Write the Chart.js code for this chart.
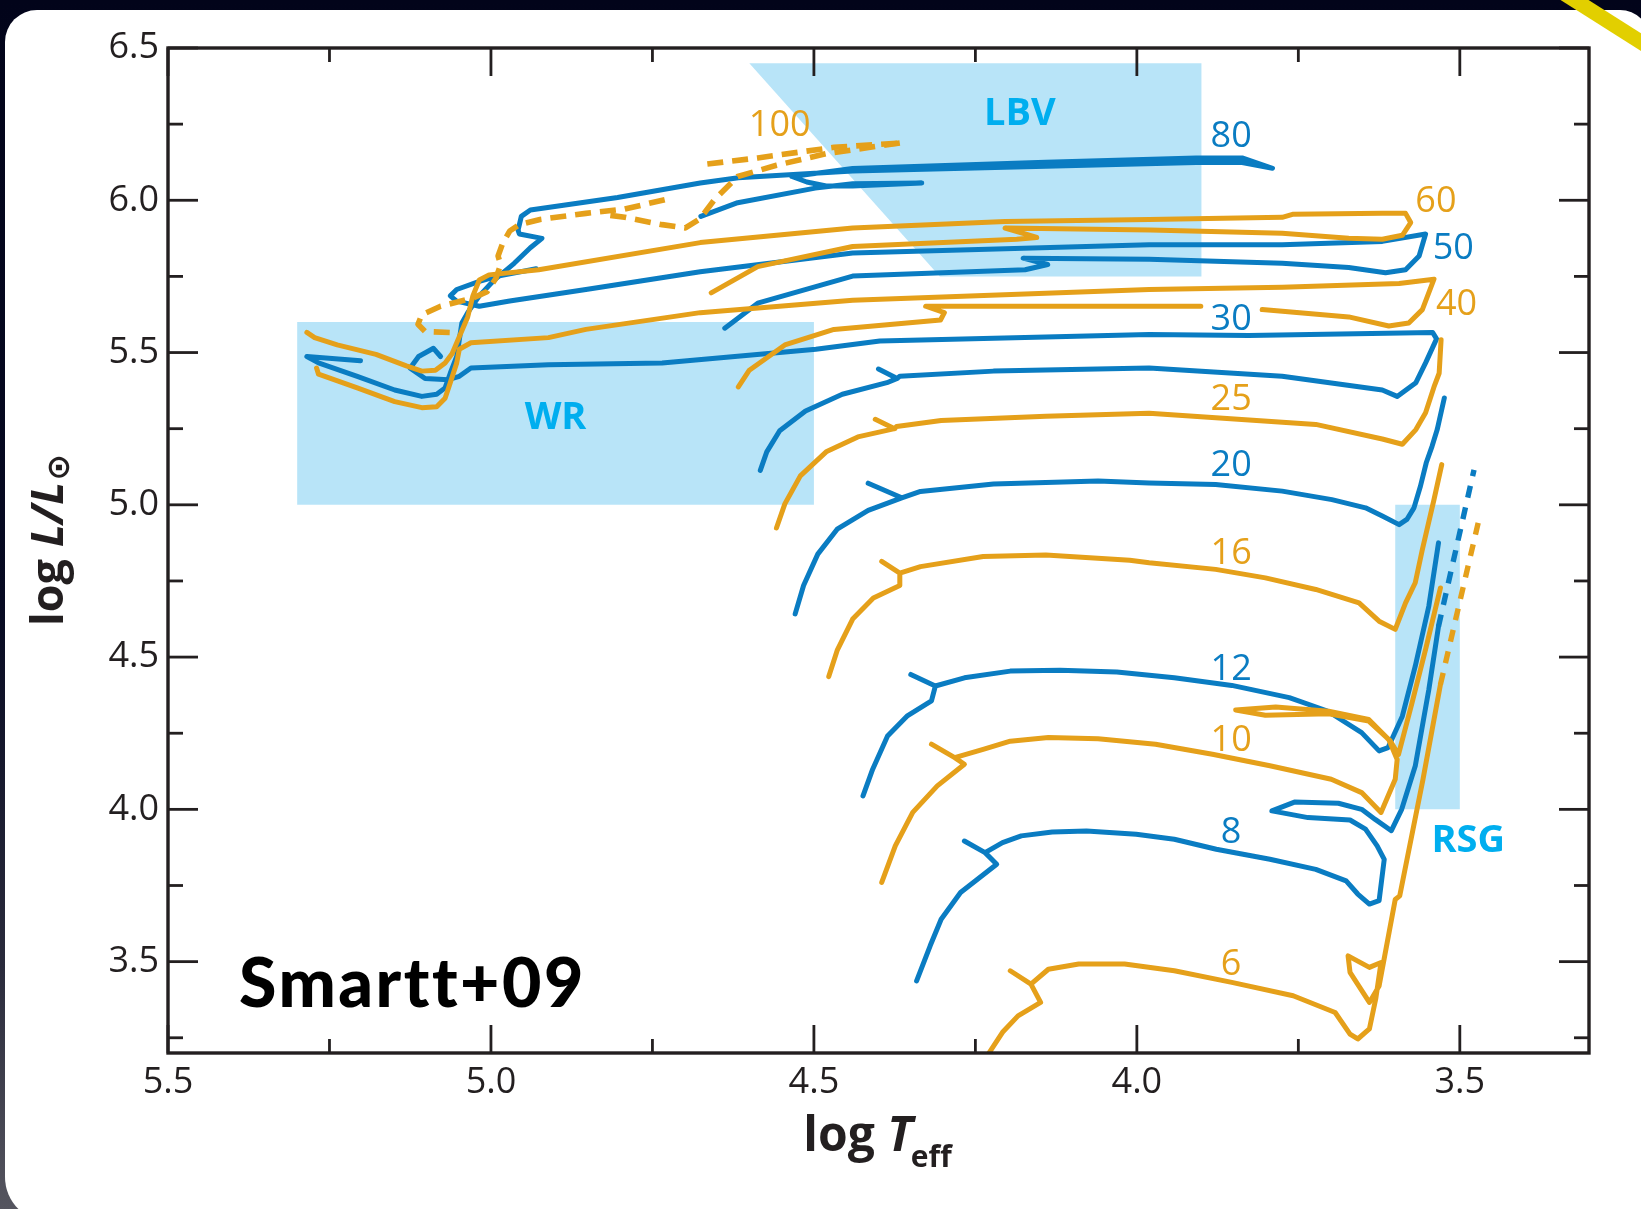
<!DOCTYPE html>
<html><head><meta charset="utf-8">
<script src="https://cdn.jsdelivr.net/npm/chart.js@4.4.1/dist/chart.umd.min.js"></script>
<style>
html,body{margin:0;padding:0;width:1641px;height:1209px;overflow:hidden;
 background:linear-gradient(to bottom,#02041a 0%,#070a22 50%,#2a2b3c 80%,#55555f 100%);}
#panel{position:absolute;left:5px;top:10px;width:1645px;height:1212px;background:#fff;border-radius:32px 30px 30px 45px;}
#stripe{position:absolute;left:1558px;top:-18px;width:130px;height:15px;background:#e2cf00;transform-origin:0 50%;transform:rotate(32.4deg);}
#c{position:absolute;left:0;top:0;}
</style></head>
<body>
<div id="panel"></div>
<canvas id="c" width="1641" height="1209"></canvas>
<div id="stripe"></div>
<script>
// ---------- axis ticks ----------
const xMajor=[5.5,5.0,4.5,4.0,3.5];
const xMinor=[5.25,4.75,4.25,3.75];
const yMajor=[6.5,6.0,5.5,5.0,4.5,4.0,3.5];
const yMinor=[6.25,5.75,5.25,4.75,4.25,3.75,3.25];

// ---------- regions (log Teff, log L) ----------
const regionWR=[[5.3,5.6],[4.5,5.6],[4.5,5.0],[5.3,5.0]];
const regionLBV=[[4.6,6.45],[3.9,6.45],[3.9,5.75],[4.305,5.75]];
const regionRSG=[[3.6,5.0],[3.5,5.0],[3.5,4.0],[3.6,4.0]];

// ---------- evolutionary tracks [log Teff, log L] ----------
const track100a=[[4.665,6.119],[4.587,6.139],[4.469,6.174],[4.367,6.188]];
const track100b=[[4.367,6.188],[4.481,6.153],[4.558,6.115],[4.618,6.078],[4.654,6.002],[4.676,5.940],[4.699,5.909],[4.735,5.920],[4.793,5.944],[4.828,5.954]];
const track100c=[[4.731,6.002],[4.793,5.971],[4.853,5.957],[4.924,5.937],[4.956,5.920],[4.971,5.899],[4.982,5.858],[4.989,5.817],[4.985,5.789],[4.992,5.745],[5.006,5.700],[5.028,5.679],[5.078,5.652],[5.107,5.624],[5.113,5.593],[5.102,5.569],[5.063,5.566]];

const track80=[[4.675,5.947],[4.618,5.992],[4.498,6.040],[4.440,6.054],[4.333,6.057],[4.440,6.047],[4.481,6.047],[4.511,6.060],[4.534,6.078],[4.440,6.104],[4.141,6.125],[3.908,6.139],[3.837,6.139],[3.790,6.105],[3.837,6.124],[3.908,6.124],[4.141,6.112],[4.440,6.096],[4.617,6.074],[4.676,6.057],[4.804,6.009],[4.939,5.968],[4.953,5.947],[4.958,5.902],[4.956,5.889],[4.921,5.875],[4.939,5.844],[4.964,5.793],[4.995,5.738],[5.018,5.686],[5.036,5.631],[5.045,5.597],[5.049,5.542],[5.053,5.487],[5.063,5.432],[5.071,5.384],[5.084,5.363],[5.107,5.356],[5.149,5.377],[5.207,5.422],[5.267,5.466],[5.285,5.487],[5.202,5.473]];

const track60=[[4.659,5.696],[4.587,5.782],[4.440,5.848],[4.186,5.872],[4.155,5.878],[4.204,5.909],[3.979,5.902],[3.775,5.892],[3.672,5.875],[3.620,5.872],[3.589,5.885],[3.576,5.927],[3.584,5.957],[3.620,5.957],[3.759,5.954],[3.775,5.944],[3.981,5.937],[4.204,5.930],[4.440,5.909],[4.676,5.861],[4.926,5.772],[5.003,5.755],[5.018,5.738],[5.028,5.686],[5.036,5.617],[5.049,5.552],[5.060,5.497],[5.071,5.466],[5.086,5.442],[5.107,5.439],[5.131,5.456],[5.178,5.494],[5.238,5.525],[5.273,5.549],[5.285,5.566]];

const track50=[[4.638,5.580],[4.587,5.662],[4.440,5.751],[4.173,5.772],[4.138,5.789],[4.176,5.810],[3.981,5.806],[3.775,5.793],[3.672,5.779],[3.615,5.762],[3.584,5.772],[3.563,5.817],[3.553,5.889],[3.620,5.865],[3.775,5.854],[3.981,5.854],[4.440,5.827],[4.676,5.765],[4.853,5.707],[4.971,5.669],[5.018,5.652],[5.053,5.669],[5.063,5.686],[5.053,5.707],[5.018,5.734],[4.989,5.751],[4.930,5.775]];

const track40a=[[4.617,5.387],[4.600,5.442],[4.545,5.525],[4.469,5.576],[4.304,5.607],[4.298,5.631],[4.327,5.652],[3.901,5.652]];
const track40b=[[3.806,5.641],[3.672,5.617],[3.610,5.587],[3.579,5.597],[3.558,5.641],[3.540,5.741],[3.594,5.727],[3.775,5.714],[3.981,5.707],[4.440,5.672],[4.676,5.631],[4.853,5.576],[4.911,5.549],[5.031,5.532],[5.049,5.511],[5.053,5.466],[5.063,5.401],[5.071,5.350],[5.084,5.322],[5.107,5.319],[5.149,5.339],[5.207,5.384],[5.267,5.429],[5.270,5.449]];

const track30=[[4.583,5.113],[4.573,5.174],[4.553,5.243],[4.513,5.308],[4.456,5.363],[4.387,5.401],[4.371,5.415],[4.400,5.446],[4.371,5.415],[4.367,5.422],[4.222,5.439],[3.981,5.449],[3.775,5.422],[3.620,5.377],[3.597,5.356],[3.568,5.401],[3.553,5.466],[3.536,5.545],[3.542,5.566],[3.827,5.556],[3.981,5.559],[4.398,5.538],[4.497,5.511],[4.735,5.466],[4.911,5.460],[5.031,5.449],[5.049,5.422],[5.066,5.411],[5.102,5.415],[5.125,5.449],[5.112,5.487],[5.089,5.514],[5.078,5.487]];

const track25=[[4.558,4.924],[4.545,5.003],[4.521,5.095],[4.481,5.174],[4.432,5.223],[4.375,5.250],[4.405,5.281],[4.375,5.250],[4.372,5.257],[4.303,5.277],[4.141,5.291],[3.981,5.301],[3.723,5.264],[3.620,5.216],[3.589,5.199],[3.568,5.247],[3.553,5.302],[3.540,5.387],[3.532,5.432],[3.529,5.542]];

const track20=[[4.529,4.642],[4.516,4.735],[4.494,4.838],[4.464,4.920],[4.416,4.982],[4.364,5.023],[4.416,5.071],[4.364,5.023],[4.335,5.044],[4.222,5.068],[4.060,5.078],[3.981,5.072],[3.878,5.067],[3.775,5.045],[3.698,5.017],[3.646,4.990],[3.620,4.963],[3.594,4.935],[3.582,4.952],[3.571,4.990],[3.561,5.061],[3.552,5.138],[3.543,5.192],[3.535,5.247],[3.524,5.351]];

const track16=[[4.477,4.436],[4.464,4.522],[4.440,4.625],[4.408,4.694],[4.367,4.735],[4.367,4.776],[4.395,4.814],[4.367,4.776],[4.335,4.797],[4.238,4.830],[4.141,4.835],[4.011,4.818],[3.981,4.810],[3.878,4.788],[3.801,4.760],[3.723,4.722],[3.656,4.678],[3.625,4.618],[3.600,4.591],[3.584,4.678],[3.569,4.744],[3.558,4.853],[3.540,5.017],[3.528,5.132]];

const track12=[[4.424,4.044],[4.409,4.132],[4.386,4.241],[4.356,4.306],[4.318,4.356],[4.312,4.405],[4.350,4.443],[4.312,4.405],[4.267,4.432],[4.196,4.454],[4.119,4.457],[4.031,4.451],[3.942,4.432],[3.853,4.407],[3.764,4.367],[3.705,4.323],[3.652,4.252],[3.625,4.192],[3.611,4.203],[3.589,4.306],[3.569,4.470],[3.548,4.667],[3.533,4.875]];

const track10=[[4.395,3.760],[4.374,3.880],[4.347,3.990],[4.309,4.077],[4.267,4.148],[4.282,4.170],[4.318,4.214],[4.282,4.170],[4.238,4.197],[4.196,4.224],[4.137,4.236],[4.060,4.232],[3.971,4.214],[3.883,4.181],[3.794,4.143],[3.699,4.099],[3.652,4.055],[3.622,3.990],[3.600,4.099],[3.597,4.164],[3.610,4.229],[3.641,4.295],[3.703,4.322],[3.785,4.336],[3.847,4.326],[3.801,4.309],[3.703,4.314],[3.641,4.290],[3.608,4.226],[3.595,4.180],[3.574,4.350],[3.553,4.525],[3.530,4.727]];

const track8=[[4.341,3.437],[4.320,3.552],[4.303,3.639],[4.273,3.727],[4.217,3.820],[4.235,3.858],[4.267,3.896],[4.235,3.858],[4.208,3.891],[4.179,3.913],[4.131,3.926],[4.078,3.929],[4.001,3.918],[3.942,3.902],[3.877,3.869],[3.794,3.836],[3.723,3.803],[3.676,3.765],[3.658,3.722],[3.640,3.689],[3.625,3.700],[3.617,3.836],[3.628,3.880],[3.646,3.935],[3.670,3.965],[3.735,3.973],[3.791,3.995],[3.756,4.024],[3.688,4.020],[3.652,4.000],[3.631,3.967],[3.606,3.930],[3.590,4.000],[3.569,4.142],[3.548,4.393],[3.533,4.601]];
const track8Dash=[[3.533,4.601],[3.478,5.115]];

const track6=[[4.232,3.19],[4.208,3.268],[4.184,3.322],[4.149,3.366],[4.164,3.426],[4.196,3.470],[4.164,3.426],[4.137,3.475],[4.090,3.492],[4.019,3.492],[3.942,3.470],[3.853,3.432],[3.758,3.388],[3.693,3.333],[3.670,3.262],[3.658,3.246],[3.640,3.279],[3.630,3.380],[3.622,3.497],[3.640,3.481],[3.673,3.519],[3.670,3.465],[3.640,3.366],[3.625,3.420],[3.600,3.704],[3.593,3.716],[3.557,4.099],[3.530,4.410]];
const track6Dash=[[3.530,4.410],[3.471,4.946]];

// ---------- annotations ----------
const massLabels=['100','80','60','50','40','30','25','20','16','12','10','8','6'];
const massLabelX=[4.553,3.854,3.537,3.510,3.505,3.854,3.854,3.854,3.854,3.854,3.854,3.854,3.854];
const massLabelY=[6.253,6.218,6.005,5.848,5.666,5.617,5.353,5.137,4.848,4.467,4.233,3.931,3.499];
const massLabelSeries=['o','b','o','b','o','b','o','b','o','b','o','b','o'];
const regionLabels=['LBV','WR','RSG'];
const regionLabelX=[4.181,4.900,3.487];
const regionLabelY=[6.291,5.295,3.904];
const sourceLabel='Smartt+09';
const sourceLabelX=5.390, sourceLabelY=3.430;

const BLUE='#0a7cc2', ORANGE='#e5a01a', AXIS='#231f20', REGION='#b8e4f8', REGION_TEXT='#00aeef';

function ds(pts,color,dash,w){
  return {data:pts.map(p=>({x:p[0],y:p[1]})),showLine:true,borderColor:color,backgroundColor:color,
    borderWidth:w||5.0,pointRadius:0,pointHoverRadius:0,fill:false,tension:0,
    borderDash:dash||[],borderJoinStyle:'round',borderCapStyle:dash?'butt':'round'};
}
const datasets=[
  ds(track100a,ORANGE,[16,9],5.6),ds(track100b,ORANGE,[16,9],5.6),ds(track100c,ORANGE,[16,9],5.6),
  ds(track60,ORANGE),ds(track40a,ORANGE),ds(track40b,ORANGE),ds(track25,ORANGE),ds(track16,ORANGE),
  ds(track10,ORANGE),ds(track6,ORANGE),ds(track6Dash,ORANGE,[12,10],5.4),
  ds(track80,BLUE),ds(track50,BLUE),ds(track30,BLUE),ds(track20,BLUE),ds(track12,BLUE),
  ds(track8,BLUE),ds(track8Dash,BLUE,[12,10],5.4)
];

const hrPlugin={
  id:'hr',
  beforeDatasetsDraw(chart){
    const {ctx,scales:{x,y}}=chart;
    ctx.save();
    ctx.fillStyle=REGION;
    for(const poly of [regionWR,regionLBV,regionRSG]){
      ctx.beginPath();
      poly.forEach((p,i)=>{const px=x.getPixelForValue(p[0]),py=y.getPixelForValue(p[1]);i?ctx.lineTo(px,py):ctx.moveTo(px,py);});
      ctx.closePath();ctx.fill();
    }
    ctx.restore();
  },
  afterDatasetsDraw(chart){
    const {ctx,chartArea:a,scales:{x,y}}=chart;
    ctx.save();
    ctx.strokeStyle=AXIS;ctx.lineWidth=3.4;
    ctx.strokeRect(a.left,a.top,a.right-a.left,a.bottom-a.top);
    ctx.lineWidth=2.8;
    const seg=(x1,y1,x2,y2)=>{ctx.beginPath();ctx.moveTo(x1,y1);ctx.lineTo(x2,y2);ctx.stroke();};
    xMajor.forEach(v=>{const p=x.getPixelForValue(v);seg(p,a.bottom,p,a.bottom-28);seg(p,a.top,p,a.top+28);});
    xMinor.forEach(v=>{const p=x.getPixelForValue(v);seg(p,a.bottom,p,a.bottom-14);seg(p,a.top,p,a.top+14);});
    yMajor.forEach(v=>{const p=y.getPixelForValue(v);seg(a.left,p,a.left+30,p);seg(a.right,p,a.right-30,p);});
    yMinor.forEach(v=>{const p=y.getPixelForValue(v);seg(a.left,p,a.left+15,p);seg(a.right,p,a.right-15,p);});
    ctx.textAlign='center';ctx.textBaseline='alphabetic';
    ctx.font='36px "Open Sans"';
    massLabels.forEach((t,i)=>{
      ctx.fillStyle=massLabelSeries[i]==='b'?BLUE:ORANGE;
      ctx.fillText(t,x.getPixelForValue(massLabelX[i]),y.getPixelForValue(massLabelY[i])+36*0.357);
    });
    ctx.font='bold 38px "Open Sans"';ctx.fillStyle=REGION_TEXT;
    regionLabels.forEach((t,i)=>{
      ctx.fillText(t,x.getPixelForValue(regionLabelX[i]),y.getPixelForValue(regionLabelY[i])+38*0.357);
    });
    ctx.textAlign='left';ctx.fillStyle='#000';ctx.font='900 68px Lato';
    if('letterSpacing' in ctx) ctx.letterSpacing='2.5px';
    ctx.fillText(sourceLabel,x.getPixelForValue(sourceLabelX),y.getPixelForValue(sourceLabelY)+68*0.36);
    if('letterSpacing' in ctx) ctx.letterSpacing='0px';
    ctx.restore();
  },
  afterDraw(chart){
    const {ctx,chartArea:a}=chart;
    ctx.save();
    ctx.fillStyle=AXIS;ctx.textBaseline='alphabetic';ctx.textAlign='left';
    const f1='bold 48px "Open Sans"',f2='italic bold 48px "Open Sans"',f3='bold 30px "Open Sans"';
    ctx.font=f1;const w1=ctx.measureText('log ').width;
    ctx.font=f2;const w2=ctx.measureText('T').width;
    ctx.font=f3;const w3=ctx.measureText('eff').width;
    let cx=(a.left+a.right)/2-(w1+w2+w3)/2, by=a.bottom+98;
    ctx.font=f1;ctx.fillText('log ',cx,by);cx+=w1;
    ctx.font=f2;ctx.fillText('T',cx,by);cx+=w2-2;
    ctx.font=f3;ctx.fillText('eff',cx,by+16);
    const g1='bold 45px "Open Sans"',g2='italic bold 45px "Open Sans"',g3='bold 32px "DejaVu Sans"';
    ctx.font=g1;const v1=ctx.measureText('log ').width;
    ctx.font=g2;const v2=ctx.measureText('L/L').width;
    ctx.font=g3;const v3=ctx.measureText('\u2299').width;
    ctx.translate(63,(a.top+a.bottom)/2-10);ctx.rotate(-Math.PI/2);
    let sx=-(v1+v2+v3)/2;
    ctx.font=g1;ctx.fillText('log ',sx,0);sx+=v1;
    ctx.font=g2;ctx.fillText('L/L',sx,0);sx+=v2+1;
    ctx.font=g3;ctx.fillText('\u2299',sx,6);
    ctx.restore();
  }
};

new Chart(document.getElementById('c'),{
  type:'scatter',
  data:{datasets},
  options:{
    responsive:false,animation:false,devicePixelRatio:1,
    layout:{padding:{left:0,right:52,top:48,bottom:0}},
    plugins:{legend:{display:false},tooltip:{enabled:false}},
    scales:{
      x:{type:'linear',min:3.3,max:5.5,reverse:true,
        afterBuildTicks:s=>{s.ticks=xMajor.map(v=>({value:v}));},
        afterFit:s=>{s.height=156;},
        grid:{display:false,drawTicks:false},border:{display:false},
        ticks:{padding:8,color:AXIS,font:{family:'Open Sans',size:36},maxRotation:0,autoSkip:false,
          callback:v=>Number(v).toFixed(1)}},
      y:{type:'linear',min:3.2,max:6.5,
        afterBuildTicks:s=>{s.ticks=yMajor.map(v=>({value:v}));},
        afterFit:s=>{s.width=168;},
        grid:{display:false,drawTicks:false},border:{display:false},
        ticks:{padding:9,color:AXIS,font:{family:'Open Sans',size:36},autoSkip:false,
          callback:v=>Number(v).toFixed(1)}}
    }
  },
  plugins:[hrPlugin]
});
</script>
</body></html>
